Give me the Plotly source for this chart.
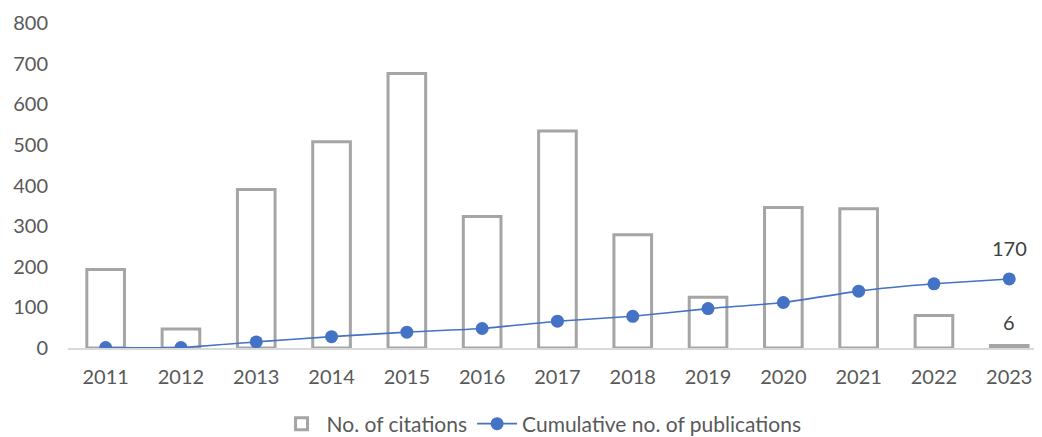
import plotly.graph_objects as go

years = ["2011", "2012", "2013", "2014", "2015", "2016", "2017", "2018", "2019", "2020", "2021", "2022", "2023"]
citations = [193, 47, 390, 508, 676, 324, 534, 279, 125, 346, 343, 80, 6]
cumulative_pubs = [1, 1, 15, 28, 39, 48, 66, 78, 97, 112, 140, 158, 170]
y_ticks = [0, 100, 200, 300, 400, 500, 600, 700, 800]

FONT = "Lato, Calibri, Carlito, sans-serif"
GRAY_TXT = "#595959"
FS = 20

fig = go.Figure()
fig.add_trace(go.Bar(
    x=list(range(len(years))), y=citations, name="No. of citations",
    width=0.5,
    marker=dict(color="white", line=dict(color="#A5A5A5", width=3)),
))
fig.add_trace(go.Scatter(
    x=list(range(len(years))), y=cumulative_pubs, name="Cumulative no. of publications",
    mode="lines+markers",
    line=dict(color="#4472C4", width=1.6, shape="spline", smoothing=0.4),
    marker=dict(color="#4472C4", size=13),
))

last = len(years) - 1
fig.add_annotation(x=last, y=cumulative_pubs[last], text=str(cumulative_pubs[last]),
                   showarrow=False, yshift=31, font=dict(family=FONT, size=FS, color="#404040"))
fig.add_annotation(x=last, y=citations[last], text=str(citations[last]),
                   showarrow=False, yshift=24, font=dict(family=FONT, size=FS, color="#404040"))

fig.update_layout(
    width=1034, height=437,
    margin=dict(l=60, r=0, t=15, b=97, autoexpand=False),
    plot_bgcolor="white", paper_bgcolor="white",
    font=dict(family=FONT, size=FS, color=GRAY_TXT),
    bargap=0.5,
    showlegend=True,
    legend=dict(orientation="h", xref="container", x=0.516, xanchor="center",
                yref="container", y=0.5/437, yanchor="bottom",
                font=dict(family=FONT, size=21, color=GRAY_TXT),
                itemwidth=40, traceorder="normal"),
    xaxis=dict(
        tickmode="array", tickvals=list(range(len(years))), ticktext=years,
        range=[-0.5, 12.435], showgrid=False, zeroline=False,
        showline=True, linecolor="#D9D9D9", linewidth=1.5,
        ticks="", ticklabelstandoff=10, automargin=False,
        tickfont=dict(family=FONT, size=FS, color=GRAY_TXT),
    ),
    yaxis=dict(
        range=[0, 800], tickmode="array", tickvals=y_ticks,
        showgrid=False, zeroline=False, showline=False, ticks="",
        ticklabelstandoff=19, automargin=False,
        tickfont=dict(family=FONT, size=FS, color=GRAY_TXT),
    ),
)

fig.write_html("out.html")
